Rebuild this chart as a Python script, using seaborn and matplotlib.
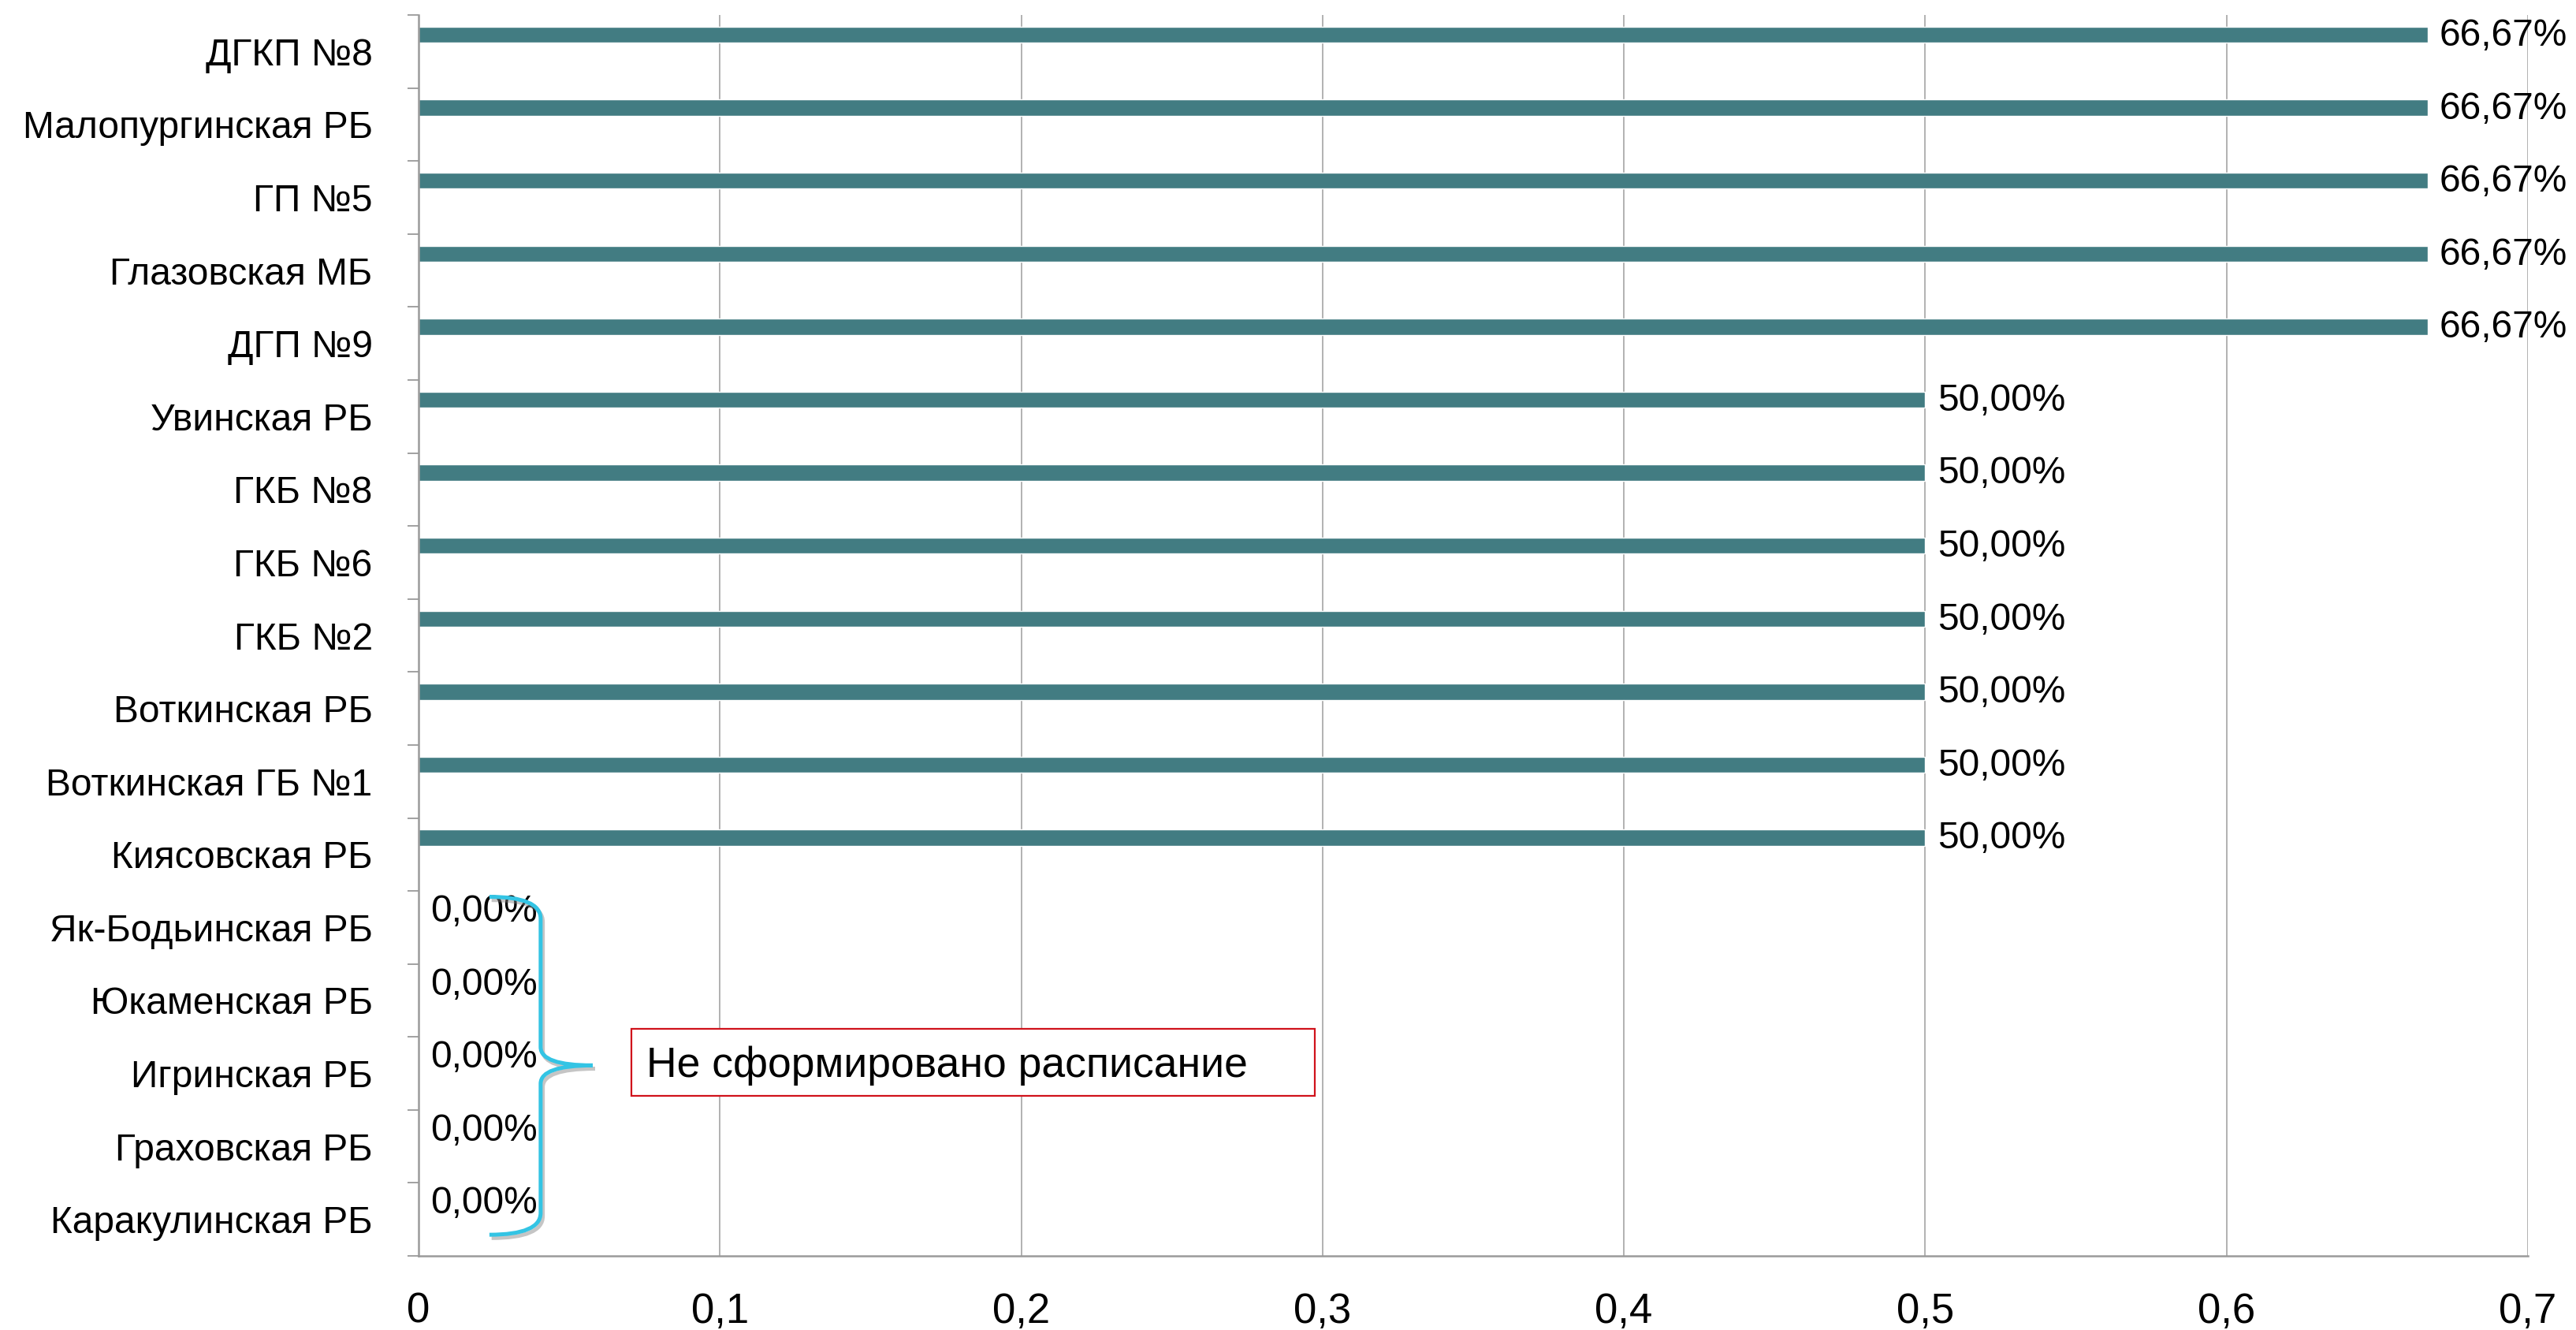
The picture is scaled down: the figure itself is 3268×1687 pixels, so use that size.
import numpy as np
import pandas as pd
import seaborn as sns
import matplotlib.pyplot as plt
import matplotlib.patheffects as pe
from matplotlib.path import Path
from matplotlib.patches import PathPatch, Rectangle
from matplotlib.ticker import FixedLocator

hospitals = ['ДГКП №8', 'Малопургинская РБ', 'ГП №5', 'Глазовская МБ', 'ДГП №9',
             'Увинская РБ', 'ГКБ №8', 'ГКБ №6', 'ГКБ №2', 'Воткинская РБ',
             'Воткинская ГБ №1', 'Киясовская РБ', 'Як-Бодьинская РБ', 'Юкаменская РБ',
             'Игринская РБ', 'Граховская РБ', 'Каракулинская РБ']
shares = [0.6667, 0.6667, 0.6667, 0.6667, 0.6667,
          0.50, 0.50, 0.50, 0.50, 0.50, 0.50, 0.50,
          0.0, 0.0, 0.0, 0.0, 0.0]
x_ticks = [0, 0.1, 0.2, 0.3, 0.4, 0.5, 0.6, 0.7]
note_text = 'Не сформировано расписание'

bar_color = '#427C82'
axis_gray = '#9A9A9A'
grid_gray = '#ABABAB'

sns.set_theme(style="white")
plt.rcParams['font.family'] = ['Liberation Sans', 'DejaVu Sans']
plt.rcParams['text.color'] = 'black'

df = pd.DataFrame({'Hospital': hospitals, 'Share': shares})

fig = plt.figure(figsize=(32.68, 16.87), dpi=100)
ax = fig.add_axes([0.1625, 0.0557, 0.8188, 0.933])

sns.barplot(data=df, x='Share', y='Hospital', orient='h', color=bar_color,
            saturation=1, width=0.22, ax=ax)

# Excel puts the bar in the upper part of each category band
shift = -0.23
for patch in ax.patches:
    patch.set_y(patch.get_y() + shift)

n = len(hospitals)
ax.set_ylim(n - 0.5, -0.5)
ax.set_xlim(0, 0.7)
ax.set_ylabel('')
ax.set_xlabel('')

# value labels
for i, v in enumerate(shares):
    label = f'{v * 100:.2f}%'.replace('.', ',')
    ax.annotate(label, (v, i + shift), xytext=(11, -1), textcoords='offset points',
                va='center', ha='left', fontsize=34.5, color='black')

# axes styling
ax.set_xticks(x_ticks)
ax.set_xticklabels([('%g' % t).replace('.', ',') for t in x_ticks], fontsize=38)
ax.tick_params(axis='x', which='major', length=11, width=1.3, color=axis_gray,
               labelcolor='black', pad=22)
ax.yaxis.set_minor_locator(FixedLocator(np.arange(-0.5, n, 1)))
ax.tick_params(axis='y', which='major', length=0, pad=42, labelsize=34.5, labelcolor='black')
ax.tick_params(axis='y', which='minor', length=10, width=1.3, color=axis_gray, left=True)
ax.grid(axis='x', color=grid_gray, linewidth=1.3)
ax.set_axisbelow(True)
for side in ['top', 'right']:
    ax.spines[side].set_visible(False)
for side in ['left', 'bottom']:
    ax.spines[side].set_color(axis_gray)
    ax.spines[side].set_linewidth(1.8)

# curly brace next to zero rows
xe, xv, xt = 0.0235, 0.0405, 0.0578
yt, ym, yb = 11.58, 13.89, 16.21
r, rm = 0.3, 0.25
verts = [(xe, yt), (xv, yt), (xv, yt + r),
         (xv, ym - rm),
         (xv, ym), (xt, ym),
         (xv, ym), (xv, ym + rm),
         (xv, yb - r),
         (xv, yb), (xe, yb)]
codes = [Path.MOVETO, Path.CURVE3, Path.CURVE3,
         Path.LINETO,
         Path.CURVE3, Path.CURVE3,
         Path.CURVE3, Path.CURVE3,
         Path.LINETO,
         Path.CURVE3, Path.CURVE3]
brace = PathPatch(Path(verts, codes), facecolor='none', edgecolor='#33C4E4',
                  linewidth=3.6, capstyle='butt', zorder=5,
                  path_effects=[pe.SimpleLineShadow(offset=(2, -3), shadow_color='gray', alpha=0.45),
                                pe.Normal()])
ax.add_patch(brace)

# note box
ax.add_patch(Rectangle((0.0706, 13.39), 0.2268, 0.92, facecolor='white',
                       edgecolor='#D0121B', linewidth=1.6, zorder=5))
ax.text(0.0757, 13.89, note_text, fontsize=38.5, va='center', ha='left', zorder=6)

fig.savefig('out.png', dpi=100)
